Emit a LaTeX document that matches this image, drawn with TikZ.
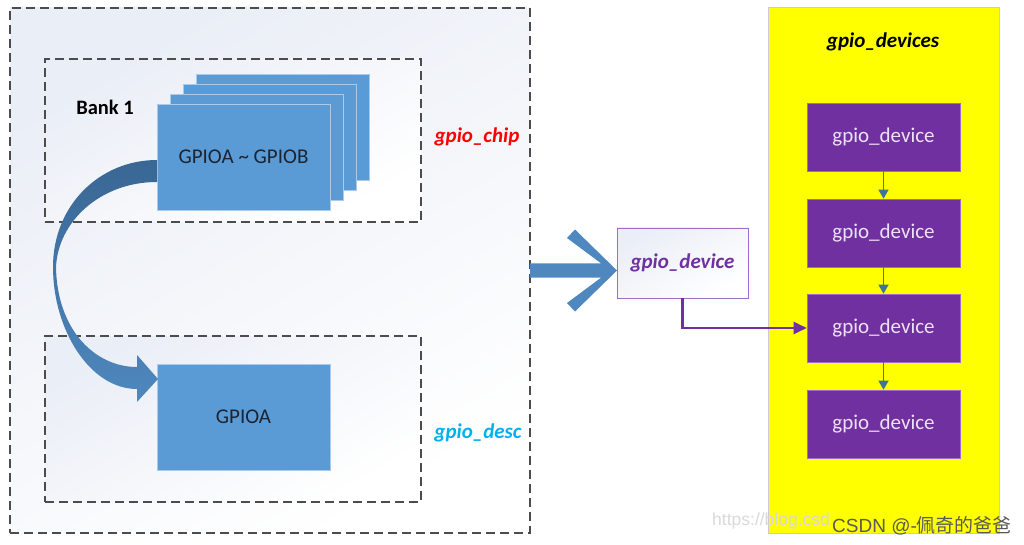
\documentclass[tikz,border=0pt]{standalone}
\usepackage{fontspec}
\setmainfont{Carlito}
\newfontfamily\wmfont{Liberation Sans}
\newfontfamily\cjkfont{Noto Sans CJK SC}
\usetikzlibrary{arrows.meta}

\begin{document}
\begin{tikzpicture}[x=1pt,y=-1pt]

  % ---- colours ----
  \definecolor{GDLine}{gray}{0.30}
  \definecolor{GDPaper}{RGB}{234,238,246}
  \definecolor{GDBlue}{RGB}{91,155,213}
  \definecolor{GDBlueEdge}{RGB}{170,202,234}
  \definecolor{GDInk}{RGB}{28,36,50}
  \definecolor{GDArrow}{RGB}{78,136,190}
  \definecolor{GDArrowDark}{RGB}{58,103,148}
  \definecolor{GDLink}{RGB}{65,113,156}
  \definecolor{GDPurple}{RGB}{112,48,160}
  \definecolor{GDPurpleEdge}{RGB}{155,110,205}
  \definecolor{GDLavender}{RGB}{236,226,246}
  \definecolor{GDYellow}{RGB}{255,255,0}
  \definecolor{GDRed}{RGB}{255,0,0}
  \definecolor{GDCyan}{RGB}{0,176,240}

  \useasboundingbox (0,0) rectangle (1024,545);

  % ---- styles ----
  \tikzset{
    lbl/.style={font=\fontsize{21}{25}\selectfont},
    grpbox/.style={draw=GDLine, line width=1.4pt, dash pattern=on 9pt off 5pt,
      top color=GDPaper, bottom color=white, shading angle=30, inner sep=0pt},
    gpiobox/.style={lbl, draw=GDBlueEdge, line width=0.8pt, fill=GDBlue, text=GDInk,
      minimum width=173pt, minimum height=106pt, inner sep=0pt},
    devbox/.style={lbl, draw=GDPurpleEdge, line width=0.6pt, fill=GDPurple, text=GDLavender,
      minimum width=153pt, minimum height=68pt, inner sep=0pt},
    link/.style={draw=GDLink, line width=1.2pt, -{Triangle[width=10pt,length=9pt]}},
    elbow/.style={draw=GDPurple, line width=2.2pt, -{Triangle[width=12pt,length=13pt]}}
  }

  % ---- left group: gpio_chip / gpio_desc ----
  \node[grpbox, minimum width=520pt, minimum height=525pt] (outer) at (270,270.5) {};
  \node[grpbox, minimum width=376pt, minimum height=163pt] (chipgrp) at (233,140.5) {};
  \node[grpbox, minimum width=376pt, minimum height=166pt] (descgrp) at (233,419) {};

  \node[lbl, font=\fontsize{20.5}{24}\selectfont\bfseries] (bank) at (105,107) {Bank 1};

  % stacked banks, back to front
  \foreach \k in {3,2,1}
    \node[gpiobox] (stack\k) at ({243.5+13*\k},{157-10*\k}) {};
  \node[gpiobox] (stack0) at (243.5,157) {GPIOA \textasciitilde{} GPIOB};

  \node[gpiobox] (gpioa) at (243.5,417) {GPIOA};

  \node[lbl, font=\fontsize{21}{25}\selectfont\bfseries\itshape, text=GDRed] (chiplbl) at (477,137) {gpio\_chip};
  \node[lbl, font=\fontsize{21}{25}\selectfont\bfseries\itshape, text=GDCyan] (desclbl) at (478,433) {gpio\_desc};

  % curved block arrow chip -> desc
  \shade[top color=GDArrowDark, bottom color=GDArrow]
    (157,160) .. controls (100,160) and (53,205) .. (53,267)
    .. controls (53,330) and (90,389) .. (137,389)
    -- (137,402) -- (158,379) -- (137,355) -- (137,367)
    .. controls (95,367) and (57,330) .. (56,267)
    .. controls (58,222) and (100,182) .. (157,182) -- cycle;

  % ---- middle: big arrow + gpio_device ----
  \fill[GDArrow] (530,263.3) -- (601,263.3) -- (567,238) -- (575,229.5) -- (617,270.5)
    -- (575,311.5) -- (567,303) -- (601,277.7) -- (530,277.7) -- cycle;

  \node[lbl, font=\fontsize{21}{25}\selectfont\bfseries\itshape, text=GDPurple,
    draw=GDPurpleEdge, line width=0.8pt, top color=GDPaper, bottom color=white, shading angle=30,
    minimum width=131pt, minimum height=70pt, inner sep=0pt] (mid) at (682.5,263) {gpio\_device};

  % ---- right: gpio_devices list ----
  \node[draw=black!20, line width=0.8pt, fill=GDYellow, minimum width=231pt, minimum height=526pt,
    inner sep=0pt] (devlist) at (883.5,270) {};
  \node[lbl, font=\fontsize{21}{25}\selectfont\bfseries\itshape] (devtitle) at (883,42) {gpio\_devices};

  \foreach \i/\y in {1/137,2/233,3/328,4/424}
    \node[devbox] (dev\i) at (883.5,\y) {gpio\_device};
  \foreach \i/\j in {1/2,2/3,3/4}
    \draw[link] (dev\i) -- (dev\j);

  \draw[elbow] (mid.south) |- (dev3.west);

  % ---- watermark ----
  \node[anchor=west, inner sep=0pt, text=black!15, font=\wmfont\fontsize{17.5}{20}\selectfont] (wmurl) at (712,521) {https://blog.csd};
  \node[anchor=west, inner sep=0pt, text=black!65, font=\wmfont\fontsize{19}{22}\selectfont] (wmname) at (832,526) {CSDN @-{\cjkfont 佩奇的爸爸}};

\end{tikzpicture}
\end{document}
